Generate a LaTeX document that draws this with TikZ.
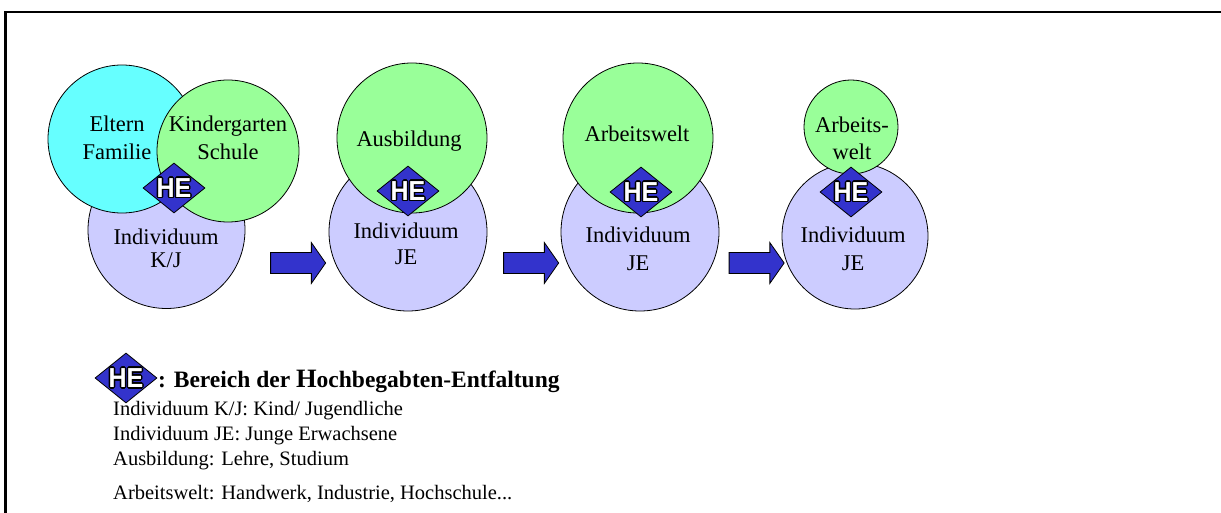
\documentclass[tikz,border=0pt]{standalone}
\usepackage{fontspec}
\setmainfont{Liberation Serif}
\newfontfamily\hefont{Liberation Sans}
\usetikzlibrary{shapes.geometric,shapes.arrows}
\definecolor{cyanfill}{RGB}{102,255,255}
\definecolor{greenfill}{RGB}{153,255,153}
\definecolor{lavfill}{RGB}{204,204,255}
\definecolor{heblue}{RGB}{51,51,204}
\newcommand\outlinetext[1]{{\setbox0\hbox{#1}%
  \rlap{\color{black}\kern-1.4pt\copy0}%
  \rlap{\color{black}\kern1.4pt\copy0}%
  \rlap{\color{black}\raise1.4pt\copy0}%
  \rlap{\color{black}\raise-1.4pt\copy0}%
  \rlap{\color{black}\kern1pt\raise1pt\copy0}%
  \rlap{\color{black}\kern-1pt\raise1pt\copy0}%
  \rlap{\color{black}\kern1pt\raise-1pt\copy0}%
  \rlap{\color{black}\kern-1pt\raise-1pt\copy0}%
  \color{white}\box0}}
\tikzset{
  circ/.style={circle, draw=black, line width=0.8pt, inner sep=0pt},
  lav/.style={circ, fill=lavfill},
  grn/.style={circ, fill=greenfill},
  cyn/.style={circ, fill=cyanfill},
  hebox/.style={diamond, draw=black, line width=0.8pt, fill=heblue, inner sep=0pt, minimum width=62pt, minimum height=50pt},
  helabel/.style={inner sep=0pt, font=\hefont\bfseries\fontsize{25}{25}\selectfont, yscale=1.1},
  ctext/.style={inner sep=0pt, anchor=base, font=\fontsize{22.5}{24}\selectfont},
  legtext/.style={inner sep=0pt, anchor=base west, font=\fontsize{20.5}{22}\selectfont},
  bigarrow/.style={single arrow, draw=black, line width=0.8pt, fill=heblue, inner xsep=0pt, inner ysep=0pt,
    minimum height=55pt, single arrow head extend=10pt, single arrow tip angle=110},
}
\begin{document}
\begin{tikzpicture}[x=1pt,y=-1pt]
\useasboundingbox (0,0) rectangle (1221,513);
\draw[line width=2.5pt] (1221,12) -- (5.5,12) -- (5.5,513);

% Stage 1
\node[lav, minimum size=157pt] (i1) at (166.5,230) {};
\node[cyn, minimum size=148pt] (e1) at (122,139) {};
\node[grn, minimum size=142pt] (k1) at (228,151) {};
\node[ctext] (t1a) at (117,132) {Eltern};
\node[ctext] (t1b) at (117,160) {Familie};
\node[ctext] (t1c) at (228,132) {Kindergarten};
\node[ctext] (t1d) at (228,160) {Schule};
\node[ctext] (t1e) at (166,245) {Individuum};
\node[ctext] (t1f) at (166,268) {K/J};
\node[hebox] (d1) at (174,188) {};
\node[helabel] (h1) at (d1) {\outlinetext{HE}};

% Stage 2
\node[lav, minimum size=158pt] (i2) at (408,232) {};
\node[grn, minimum size=150pt] (g2) at (412,138) {};
\node[ctext] (t2a) at (409,147) {Ausbildung};
\node[ctext] (t2b) at (406,239) {Individuum};
\node[ctext] (t2c) at (406,265) {JE};
\node[hebox] (d2) at (408,191) {};
\node[helabel] (h2) at (d2) {\outlinetext{HE}};

% Stage 3
\node[lav, minimum size=158pt] (i3) at (640,232) {};
\node[grn, minimum size=150pt] (g3) at (638,138) {};
\node[ctext] (t3a) at (637,142) {Arbeitswelt};
\node[ctext] (t3b) at (638,243) {Individuum};
\node[ctext] (t3c) at (638,270) {JE};
\node[hebox] (d3) at (641,192) {};
\node[helabel] (h3) at (d3) {\outlinetext{HE}};

% Stage 4
\node[lav, minimum size=146pt] (i4) at (855,236) {};
\node[grn, minimum size=94pt] (g4) at (851,127) {};
\node[ctext] (t4a) at (852,133) {Arbeits-};
\node[ctext] (t4b) at (852,160) {welt};
\node[ctext] (t4c) at (853,243) {Individuum};
\node[ctext] (t4d) at (853,270) {JE};
\node[hebox] (d4) at (851,192) {};
\node[helabel] (h4) at (d4) {\outlinetext{HE}};

% Arrows
\node[bigarrow] (a1) at (294.5,263) {\rule{0pt}{20pt}};
\node[bigarrow] (a2) at (527.5,263) {\rule{0pt}{20pt}};
\node[bigarrow] (a3) at (753,263) {\rule{0pt}{20pt}};

% Legend
\node[hebox] (dl) at (126,378) {};
\node[helabel] (hl) at (dl) {\outlinetext{HE}};
\node[inner sep=0pt, anchor=base west, font=\bfseries\fontsize{23.5}{24}\selectfont] (title) at (158,387) {: Bereich der {\fontsize{26.5}{24}\selectfont H}ochbegabten-Entfaltung};
\node[legtext] (l1) at (113,415) {Individuum K/J: Kind/ Jugendliche};
\node[legtext] (l2) at (113,440) {Individuum JE: Junge Erwachsene};
\node[legtext] (l3) at (113,465) {Ausbildung: Lehre, Studium};
\node[legtext] (l4) at (113,499) {Arbeitswelt: Handwerk, Industrie, Hochschule...};
\end{tikzpicture}
\end{document}
